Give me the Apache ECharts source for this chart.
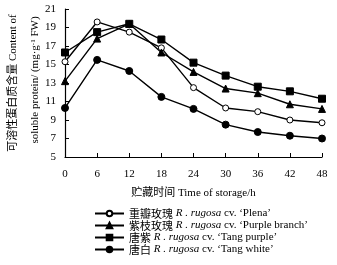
<!DOCTYPE html>
<html>
<head>
<meta charset="utf-8">
<script src="https://cdn.jsdelivr.net/npm/echarts@6/dist/echarts.min.js"></script>
<style>
  html, body { margin: 0; padding: 0; background: #fff; }
  #chart { width: 337px; height: 265px; }
</style>
</head>
<body>
<div id="chart"></div>
<script>
// 贮藏时间 (h)
var hours = [0, 6, 12, 18, 24, 30, 36, 42, 48];

// 可溶性蛋白质含量 (mg/g FW)
var plena = [15.3, 19.6, 18.5, 16.8, 12.5, 10.3, 9.9, 9.0, 8.7];
var purpleBranch = [13.2, 17.8, 19.4, 16.3, 14.2, 12.4, 11.9, 10.7, 10.2];
var tangPurple = [16.3, 18.5, 19.4, 17.7, 15.2, 13.8, 12.6, 12.1, 11.3];
var tangWhite = [10.3, 15.5, 14.3, 11.5, 10.2, 8.5, 7.7, 7.3, 7.0];

var names = ['重瓣玫瑰', '紫枝玫瑰', '唐紫', '唐白'];
var cultivars = ['Plena', 'Purple branch', 'Tang purple', 'Tang white'];

var serif = '"Liberation Serif", "Noto Sans CJK SC", serif';
var cjk = '"Noto Sans CJK SC", serif';

var chart = echarts.init(document.getElementById('chart'));

var pairs = function (ys) {
    var out = [];
    for (var i = 0; i < hours.length; i++) {
        out.push([hours[i], ys[i]]);
    }
    return out;
};

var mkSeries = function (name, ys, symbol, size, fill) {
    return {
        name: name,
        type: 'line',
        data: pairs(ys),
        symbol: symbol,
        symbolSize: size,
        lineStyle: { color: '#000', width: 1.4 },
        itemStyle: { color: fill, borderColor: '#000', borderWidth: 1 },
        emphasis: { disabled: true },
        animation: false
    };
};

var option = {
    animation: false,
    grid: { left: 65, right: 15, top: 9, bottom: 108 },
    xAxis: {
        type: 'value',
        min: 0,
        max: 48,
        interval: 6,
        name: '贮藏时间 Time of storage/h',
        nameLocation: 'middle',
        nameGap: 31,
        nameTextStyle: { color: '#000', fontSize: 11, fontFamily: serif },
        axisLine: { lineStyle: { color: '#000', width: 1.2 } },
        axisTick: { inside: true, length: 4, lineStyle: { color: '#000' } },
        axisLabel: { color: '#000', fontSize: 11, fontFamily: serif, margin: 12 },
        splitLine: { show: false }
    },
    yAxis: {
        type: 'value',
        min: 5,
        max: 21,
        interval: 2,
        axisLine: { show: true, lineStyle: { color: '#000', width: 1.2 } },
        axisTick: { show: true, inside: true, length: 4, lineStyle: { color: '#000' } },
        axisLabel: { color: '#000', fontSize: 11, fontFamily: serif, margin: 9 },
        splitLine: { show: false }
    },
    legend: {
        orient: 'vertical',
        left: 89,
        top: 203,
        itemGap: 1,
        itemWidth: 29,
        itemHeight: 7,
        data: names,
        formatter: function (n) {
            var i = names.indexOf(n);
            return '{zh|' + n + '} {it|R . rugosa} cv. ‘' + cultivars[i] + '’';
        },
        textStyle: {
            color: '#000',
            fontSize: 11,
            fontFamily: serif,
            rich: {
                zh: { fontFamily: cjk, fontSize: 11, color: '#000' },
                it: { fontFamily: serif, fontStyle: 'italic', fontSize: 11, color: '#000' }
            }
        }
    },
    graphic: [{
        type: 'text',
        x: 13,
        y: 83,
        rotation: Math.PI / 2,
        style: {
            text: '可溶性蛋白质含量 Content of',
            font: '11px ' + serif,
            fill: '#000',
            align: 'center',
            verticalAlign: 'middle'
        }
    }, {
        type: 'text',
        x: 35,
        y: 80,
        rotation: Math.PI / 2,
        style: {
            text: 'soluble protein/ (mg·g{s|-1} FW)',
            rich: { s: { fontSize: 7, verticalAlign: 'top', fontFamily: serif } },
            font: '11px ' + serif,
            fill: '#000',
            align: 'center',
            verticalAlign: 'middle'
        }
    }],
    series: [
        mkSeries(names[0], plena, 'circle', 6, '#fff'),
        mkSeries(names[1], purpleBranch, 'triangle', 7, '#000'),
        mkSeries(names[2], tangPurple, 'rect', 7, '#000'),
        mkSeries(names[3], tangWhite, 'circle', 7, '#000')
    ]
};

chart.setOption(option);
</script>
</body>
</html>
